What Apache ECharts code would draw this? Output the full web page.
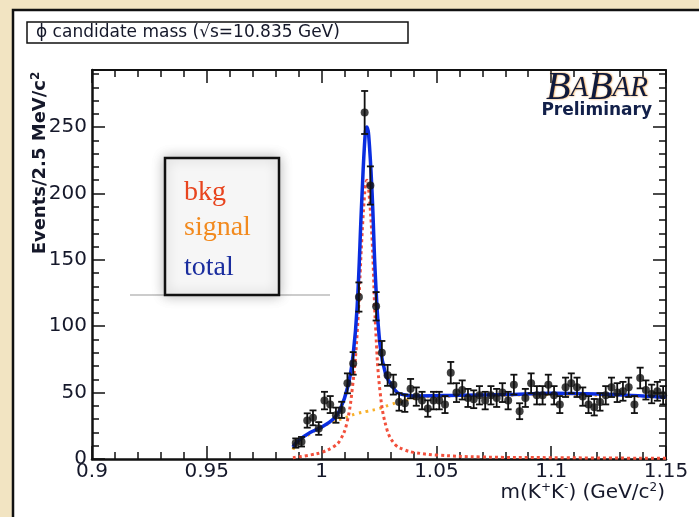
<!DOCTYPE html>
<html><head><meta charset="utf-8">
<script src="https://cdn.jsdelivr.net/npm/echarts@6/dist/echarts.min.js"></script>
<style>html,body{margin:0;padding:0;background:#fff}#c{width:699px;height:517px}</style>
</head><body><div id="c"></div>
<script>
// ---- data ----
const binCenters = [0.98875,0.99125,0.99375,0.99625,0.99875,1.00125,1.00375,1.00625,1.00875,1.01125,
  1.01375,1.01625,1.01875,1.02125,1.02375,1.02625,1.02875,1.03125,1.03375,1.03625,
  1.03875,1.04125,1.04375,1.04625,1.04875,1.05125,1.05375,1.05625,1.05875,1.06125,
  1.06375,1.06625,1.06875,1.07125,1.07375,1.07625,1.07875,1.08125,1.08375,1.08625,
  1.08875,1.09125,1.09375,1.09625,1.09875,1.10125,1.10375,1.10625,1.10875,1.11125,
  1.11375,1.11625,1.11875,1.12125,1.12375,1.12625,1.12875,1.13125,1.13375,1.13625,
  1.13875,1.14125,1.14375,1.14625,1.14875];
const counts = [12,13,29,31,23,44,41,33,37,57,
  72,122,261,206,115,80,63,56,43,42,
  53,47,44,38,44,44,41,65,50,52,
  46,45,48,44,48,46,50,44,56,36,
  46,57,48,48,56,48,41,54,57,54,
  47,41,39,43,48,54,50,51,54,41,
  61,52,49,51,48];
const errors = [3.5,3.6,5.4,5.6,4.8,6.6,6.4,5.7,6.1,7.5,
  8.5,11.0,16.2,14.4,10.7,8.9,7.9,7.5,6.6,6.5,
  7.3,6.9,6.6,6.2,6.6,6.6,6.4,8.1,7.1,7.2,
  6.8,6.7,6.9,6.6,6.9,6.8,7.1,6.6,7.5,6.0,
  6.8,7.5,6.9,6.9,7.5,6.9,6.4,7.3,7.5,7.3,
  6.9,6.4,6.2,6.6,6.9,7.3,7.1,7.1,7.3,6.4,
  7.8,7.2,7.0,7.1,6.9];

const totalM = [0.9875,0.99,0.995,1.0,1.005,1.008,1.0115,1.0137,1.0155,1.0175,1.019,1.0197,1.0205,1.022,1.0235,1.0255,1.028,1.03,1.033,1.037,1.04,1.06,1.08,1.1,1.12,1.14,1.15];
const totalV = [9,14,20,24,30,37,55,78,115,195,245,250,244,200,135,85,63,57,50,48,47.5,48,48.5,49.5,49,47.5,46.5];
const bkgM = [0.9875,0.995,1.0,1.005,1.008,1.011,1.0135,1.0155,1.0175,1.019,1.0197,1.0205,1.022,1.0235,1.0255,1.0285,1.032,1.036,1.04,1.05,1.07,1.1,1.15];
const bkgV = [1,3,5,9,14,27,55,95,165,205,210,203,165,100,50,22,11,7,5,3,1.5,1,0.5];
const signalM = [0.9875,0.99,0.995,1.0,1.005,1.01,1.015,1.02,1.025,1.03,1.035,1.04,1.05,1.07,1.1,1.13,1.15];
const signalV = [7,13,19,24,28,31,34,36,38,41,43.5,45.5,47,47.5,48.5,47.5,46];

const xTickLabels = ['0.9','0.95','1','1.05','1.1','1.15'];
const yTickLabels = ['0','50','100','150','200','250'];
const legendNames = ['bkg','signal','total'];

// ---- chart ----
const chart = echarts.init(document.getElementById('c'), null, {renderer:'canvas'});
const FONT = 'DejaVu Sans';
const INK = '#15182a';
const tickStyle = {color:'#111', width:1.5};
const pair = (a,b) => a.map((v,i)=>[v,b[i]]);

function xAxisCfg(pos){
  return {type:'value', min:0.9, max:1.15, interval:0.05, position:pos,
    axisLine:{show:true, onZero:false, lineStyle:{color:'#111', width: pos==='bottom'?2.5:1.8}},
    axisTick:{show:true, inside:true, length:13, lineStyle:tickStyle},
    minorTick:{show:true, splitNumber:5, length:7, lineStyle:tickStyle},
    splitLine:{show:false}, minorSplitLine:{show:false},
    axisLabel:{show: pos==='bottom', fontFamily:FONT, fontSize:20, color:INK, margin:3,
      formatter: v => { const i = Math.round((v-0.9)/0.05); return Math.abs(0.9+i*0.05-v)<1e-6 ? xTickLabels[i] : ''; }}
  };
}
function yAxisCfg(pos, major){
  return {type:'value', min:0, max:293, interval: major?50:10, position:pos,
    axisLine:{show: major, onZero:false, lineStyle:{color:'#111', width: pos==='left'?2.5:1.8}},
    axisTick:{show:true, inside:true, length: major?13:7, lineStyle:tickStyle},
    splitLine:{show:false},
    axisLabel:{show: pos==='left' && major, fontFamily:FONT, fontSize:20, color:INK, margin:5,
      formatter: v => { const i = Math.round(v/50); return (Math.abs(i*50-v)<1e-6 && i<yTickLabels.length) ? yTickLabels[i] : ''; }}
  };
}

const logoRich = (size) => ({fontSize:size, fontStyle:'italic', fontFamily:'Liberation Serif', color:'#0f1a3c',
  textShadowColor:'#e8902a', textShadowBlur:2, textShadowOffsetX:0.5, textShadowOffsetY:0.5});

const option = {
  backgroundColor:'#ffffff',
  animation:false,
  grid:{left:92, top:70, width:574, height:389, containLabel:false},
  xAxis:[xAxisCfg('bottom'), xAxisCfg('top')],
  yAxis:[yAxisCfg('left',true), yAxisCfg('left',false), yAxisCfg('right',true), yAxisCfg('right',false)],
  series:[
    {name:legendNames[1], type:'line', data:pair(signalM, signalV), smooth:true, symbol:'none', clip:true,
      lineStyle:{color:'#f8b02a', width:3, type:[2.5,4.5]}, z:3},
    {name:legendNames[0], type:'line', data:pair(bkgM, bkgV), smooth:0.4, symbol:'none', clip:true,
      lineStyle:{color:'#f2503c', width:3, type:[3,3]}, z:3},
    {name:legendNames[2], type:'line', data:pair(totalM, totalV), smooth:0.4, symbol:'none', clip:true,
      lineStyle:{color:'#0a2de0', width:3.5}, z:4},
    {name:'err', type:'custom', data: binCenters.map((m,i)=>[m, counts[i], errors[i]]), encode:{x:0,y:1}, z:5,
      renderItem:(params, api) => {
        const x = api.value(0), y = api.value(1), e = api.value(2);
        const t = api.coord([x, y+e]), b = api.coord([x, Math.max(0,y-e)]);
        const hw = 3.5, st = {stroke:'#111', lineWidth:1.8};
        return {type:'group', children:[
          {type:'line', shape:{x1:t[0],y1:t[1],x2:b[0],y2:b[1]}, style:st},
          {type:'line', shape:{x1:t[0]-hw,y1:t[1],x2:t[0]+hw,y2:t[1]}, style:st},
          {type:'line', shape:{x1:b[0]-hw,y1:b[1],x2:b[0]+hw,y2:b[1]}, style:st}
        ]};
      }},
    {name:'data', type:'scatter', data: binCenters.map((m,i)=>[m, counts[i]]), symbol:'circle', symbolSize:8,
      itemStyle:{color:'#111'}, z:6}
  ],
  graphic:[
    {type:'rect', shape:{x:0,y:0,width:699,height:9}, style:{fill:'#f2e4c2'}, silent:true},
    {type:'rect', shape:{x:0,y:0,width:12,height:517}, style:{fill:'#f2e4c2'}, silent:true},
    {type:'polyline', shape:{points:[[13,517],[13,10],[699,10]]}, style:{stroke:'#111', lineWidth:2.5, fill:null}},
    // title box
    {type:'rect', shape:{x:27,y:22,width:381,height:21}, style:{fill:'#fff', stroke:'#111', lineWidth:1.5}},
    {type:'text', style:{x:36, y:33, text:'ϕ candidate mass (√s=10.835 GeV)', font:'17px "DejaVu Sans"', fill:INK, verticalAlign:'middle'}},
    // y axis title
    {type:'text', x:40, y:163, rotation:Math.PI/2,
      style:{text:'Events/2.5 MeV/c{s|2}', align:'center', verticalAlign:'middle', font:'bold 18px "DejaVu Sans"', fill:INK,
        rich:{s:{fontSize:12, fontWeight:'bold', fontFamily:FONT, verticalAlign:'top', padding:[0,0,9,0]}}}},
    // x axis title
    {type:'text', style:{x:665, y:493, text:'m(K{s|+}K{s|-}) (GeV/c{s|2})', align:'right', verticalAlign:'middle', font:'20px "DejaVu Sans"', fill:INK,
        rich:{s:{fontSize:12, fontFamily:FONT, padding:[0,0,10,0]}}}},
    // legend box
    {type:'line', shape:{x1:130,y1:295,x2:330,y2:295}, style:{stroke:'#999', lineWidth:1}},
    {type:'rect', shape:{x:165,y:158,width:114,height:137}, z:10,
      style:{fill:'#f6f6f6', stroke:'#111', lineWidth:2.5, shadowBlur:12, shadowColor:'rgba(0,0,0,0.25)'}},
    {type:'text', z:11, style:{x:184, y:193, text:legendNames[0], font:'28px "Liberation Serif"', fill:'#e8441e', verticalAlign:'middle'}},
    {type:'text', z:11, style:{x:184, y:228, text:legendNames[1], font:'28px "Liberation Serif"', fill:'#f28a1e', verticalAlign:'middle'}},
    {type:'text', z:11, style:{x:184, y:268, text:legendNames[2], font:'28px "Liberation Serif"', fill:'#1a2d9e', verticalAlign:'middle'}},
    // BaBar logo
    {type:'text', z:11, style:{x:648, y:108, text:'{b|B}{a|A}{b|B}{a|AR}', align:'right', verticalAlign:'bottom', fill:'#0f1a3c',
      rich:{b:logoRich(40), a:logoRich(29)}}},
    {type:'text', z:11, style:{x:652, y:111, text:'Preliminary', align:'right', verticalAlign:'middle', font:'bold 17px "DejaVu Sans"', fill:'#12204a'}}
  ]
};
chart.setOption(option);
</script></body></html>
